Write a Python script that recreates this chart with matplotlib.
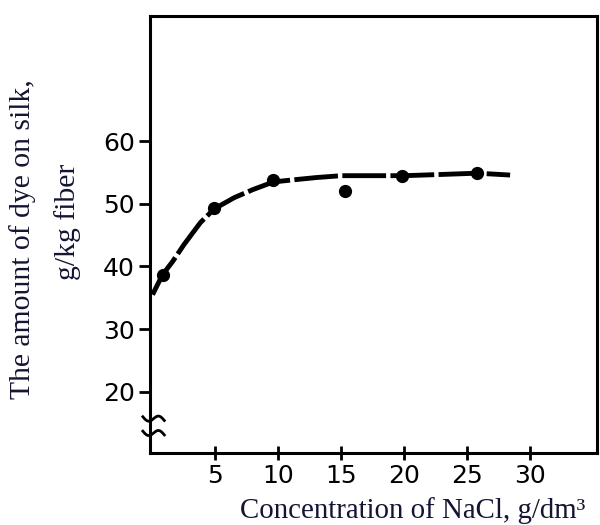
import matplotlib
matplotlib.use('Agg')
from matplotlib import pyplot as plt
from matplotlib import transforms
import numpy as np

# dots measured on the chart
conc = [0.8, 4.9, 9.6, 15.3, 19.8, 25.8]
dye = [38.7, 49.3, 53.8, 52.0, 54.5, 55.0]

# the hand-drawn curve
curve_x = [0, 0.8, 1.6, 2.5, 3.8, 4.9, 6.5, 8.0, 9.6, 11, 13, 15, 17.5, 20, 23, 25.8, 28.4]
curve_y = [35.5, 38.7, 40.8, 43.5, 47.0, 49.2, 51.0, 52.3, 53.5, 53.8, 54.2, 54.5, 54.5, 54.5, 54.7, 54.9, 54.6]

x_ticks = [5, 10, 15, 20, 25, 30]
y_ticks = [20, 30, 40, 50, 60]
break_marks = [15.7, 13.4]

fig = plt.figure(figsize=(6, 5.25), dpi=100)
ax = fig.add_axes([0.25, 0.137, 0.745, 0.8325])

ax.plot(curve_x, curve_y, color='black', lw=3.5, dashes=(9, 0.9), dash_capstyle='butt')
ax.plot(conc, dye, 'o', color='black', ms=8.5)

ax.set_xlim(-0.2, 35.3)
ax.set_ylim(10.2, 80)
ax.set_xticks(x_ticks)
ax.set_yticks(y_ticks)

for s in ax.spines.values():
    s.set_linewidth(2.2)

ax.tick_params(axis='y', direction='out', length=8, width=2, pad=3, labelsize=18)
ax.tick_params(axis='x', direction='inout', length=10, width=2, pad=3, labelsize=18)

# axis break marks on the left spine
trans = transforms.blended_transform_factory(ax.transAxes, ax.transData)
t = np.linspace(-1, 1, 30)
for yb in break_marks:
    ax.plot(0.008 + 0.024 * t, yb + 0.55 * np.sin(np.pi * t) - 0.3 * t, color='black', lw=2,
            transform=trans, clip_on=False)

txt_color = '#141433'
fig.text(23/600, 1 - 239/525, 'The amount of dye on silk,', rotation=90, ha='center', va='center',
         fontsize=21.3, family='Liberation Serif', color=txt_color)
fig.text(68/600, 1 - 222/525, 'g/kg fiber', rotation=90, ha='center', va='center',
         fontsize=21.3, family='Liberation Serif', color=txt_color)
fig.text(240/600, 1 - 518/525, 'Concentration of NaCl, g/dm³', ha='left', va='baseline',
         fontsize=20.8, family='Liberation Serif', color=txt_color)

fig.savefig('out.png', dpi=100)
